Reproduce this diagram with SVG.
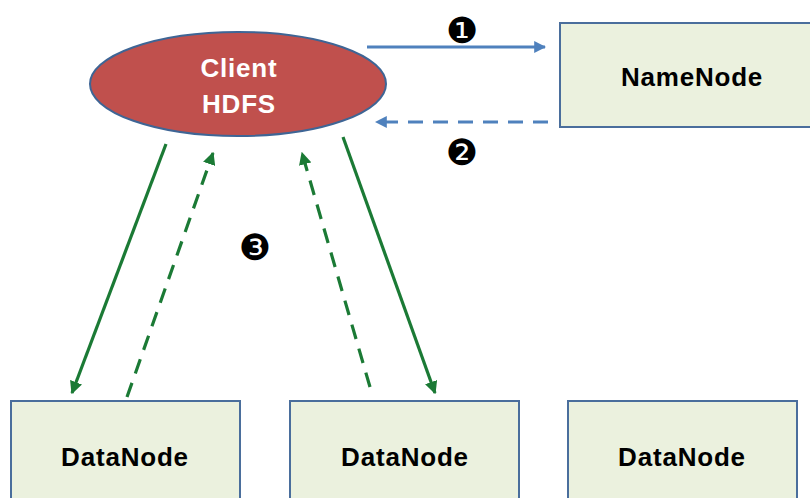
<svg xmlns="http://www.w3.org/2000/svg" width="810" height="498" viewBox="0 0 810 498">
  <style>
    .box { fill: #EBF1DE; stroke: #4A6E9C; stroke-width: 2; }
    .lbl { font-family: "Liberation Sans", Arial, sans-serif; font-weight: bold; font-size: 26px; letter-spacing: 0.8px; fill: #000; text-anchor: middle; }
    .num { font-family: "DejaVu Sans", sans-serif; font-size: 36px; fill: #000; text-anchor: middle; }
    .blue { stroke: #4F81BD; stroke-width: 3; fill: none; }
    .green { stroke: #1B7A35; stroke-width: 3.2; fill: none; }
    .dash { stroke-dasharray: 15 10; }
  </style>
  <defs>
    <marker id="ahBlue" viewBox="0 0 10 10" refX="9" refY="5" markerWidth="4" markerHeight="4" markerUnits="strokeWidth" orient="auto">
      <path d="M0,0 L10,5 L0,10 z" fill="#4F81BD"/>
    </marker>
    <marker id="ahGreen" viewBox="0 0 10 10" refX="9" refY="5" markerWidth="4" markerHeight="4" markerUnits="strokeWidth" orient="auto">
      <path d="M0,0 L10,5 L0,10 z" fill="#1B7A35"/>
    </marker>
  </defs>
  <rect width="810" height="498" fill="#fff"/>

  <g id="client">
    <ellipse cx="238" cy="84" rx="148" ry="52" fill="#C0504D" stroke="#3E6595" stroke-width="2"/>
    <text class="lbl" x="239" y="77" style="fill:#fff">Client</text>
    <text class="lbl" x="239" y="113" style="fill:#fff">HDFS</text>
  </g>

  <g id="namenode">
    <rect class="box" x="560" y="23" width="260" height="104"/>
    <text class="lbl" x="692" y="86">NameNode</text>
  </g>

  <g id="datanode1">
    <rect class="box" x="11" y="401" width="229" height="110"/>
    <text class="lbl" x="125" y="466">DataNode</text>
  </g>
  <g id="datanode2">
    <rect class="box" x="290" y="401" width="229" height="110"/>
    <text class="lbl" x="405" y="466">DataNode</text>
  </g>
  <g id="datanode3">
    <rect class="box" x="568" y="401" width="229" height="110"/>
    <text class="lbl" x="682" y="466">DataNode</text>
  </g>

  <g id="connectors">
    <line class="blue" x1="367" y1="47" x2="545" y2="47" marker-end="url(#ahBlue)"/>
    <line class="blue dash" x1="548" y1="122" x2="376" y2="122" marker-end="url(#ahBlue)"/>
    <line class="green" x1="166" y1="144" x2="72" y2="393" marker-end="url(#ahGreen)"/>
    <line class="green dash" x1="127" y1="397" x2="213" y2="153" marker-end="url(#ahGreen)"/>
    <line class="green dash" x1="370" y1="387" x2="302" y2="153" marker-end="url(#ahGreen)"/>
    <line class="green" x1="343" y1="137" x2="435" y2="393" marker-end="url(#ahGreen)"/>
  </g>

  <g id="steps">
    <text class="num" x="462" y="43">❶</text>
    <text class="num" x="462" y="165">❷</text>
    <text class="num" x="255" y="260">❸</text>
  </g>
</svg>
